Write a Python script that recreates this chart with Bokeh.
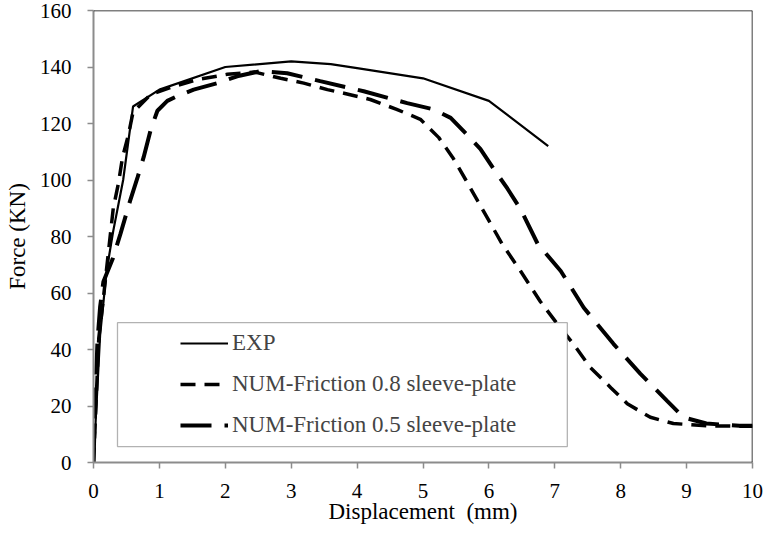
from bokeh.plotting import figure
from bokeh.models import Range1d, Legend, LegendItem, BoxAnnotation, Span, FixedTicker
from bokeh.embed import file_html
from bokeh.resources import INLINE

# ---- data ----
exp_x = [0, 0.1, 0.2, 0.3, 0.45, 0.6, 1.0, 2.0, 3.0, 3.6, 4.0, 5.0, 6.0, 6.9]
exp_y = [0, 45, 68, 82, 100, 126, 132, 140, 142, 141, 139.6, 136, 128, 112]

f08_x = [0, 0.08, 0.14, 0.21, 0.3, 0.38, 0.44, 0.53, 0.6, 0.87, 1.2, 1.58, 2.03,
         2.45, 2.84, 3.19, 3.55, 3.8, 4.2, 4.6, 4.96, 5.24, 5.45, 5.65, 5.83,
         6.02, 6.2, 6.48, 6.78, 7.04, 7.28, 7.54, 7.85, 8.1, 8.45, 8.8, 9.3, 10.0]
f08_y = [0, 44, 56, 71, 90, 99, 108, 116, 124, 130.3, 133, 135.6, 137.4,
         138.2, 136, 134.3, 132, 130.7, 128.5, 125, 121.5, 115, 108, 100, 92.6,
         84.8, 77.4, 67.8, 57, 49, 42, 33.6, 26.5, 20.8, 16, 13.8, 13, 12.8]

f05_x = [0, 0.02, 0.06, 0.1, 0.15, 0.29, 0.41, 0.56, 0.67, 0.76, 0.87, 0.97,
         1.12, 1.27, 1.52, 1.88, 2.18, 2.53, 2.94, 3.44, 3.9, 4.1, 4.76, 5.16,
         5.42, 5.69, 5.87, 6.1, 6.28, 6.48, 6.74, 7.09, 7.44, 7.89, 8.3, 8.7,
         8.95, 9.3, 9.8, 10.0]
f05_y = [0, 17, 43, 55, 64, 72, 81, 93, 101, 108, 118, 124.5,
         128, 129.7, 132, 134.3, 136.7, 138.5, 137.8, 135, 132.5, 131.4, 127.2, 125,
         122, 115.5, 111, 103, 97, 89.7, 77.4, 67.8, 54.8, 42, 31.4, 21.9,
         16, 13.8, 13, 13]

x_ticks = [0, 1, 2, 3, 4, 5, 6, 7, 8, 9, 10]
y_ticks = [0, 20, 40, 60, 80, 100, 120, 140, 160]

labels = ["EXP", "NUM-Friction 0.8 sleeve-plate", "NUM-Friction 0.5 sleeve-plate"]

FONT = "Liberation Serif"
AXIS_GRAY = "#8c8c8c"

p = figure(width=763, height=540, output_backend="svg", toolbar_location=None,
           x_range=Range1d(0, 10), y_range=Range1d(0, 160),
           min_border_left=93, min_border_right=11, min_border_top=10, min_border_bottom=78)
p.outline_line_color = None
p.grid.visible = False
p.background_fill_color = "white"

for ax in (p.xaxis[0], p.yaxis[0]):
    ax.axis_line_color = AXIS_GRAY
    ax.axis_line_width = 2
    ax.major_tick_line_color = AXIS_GRAY
    ax.major_tick_line_width = 1.5
    ax.major_tick_in = 0
    ax.major_tick_out = 6
    ax.minor_tick_line_color = None
    ax.major_label_text_font = FONT
    ax.major_label_text_font_size = "21px"
    ax.major_label_text_color = "black"
    ax.axis_label_text_font = FONT
    ax.axis_label_text_font_size = "23px"
    ax.axis_label_text_font_style = "normal"
    ax.axis_label_text_color = "black"

p.xaxis.ticker = FixedTicker(ticks=x_ticks)
p.yaxis.ticker = FixedTicker(ticks=y_ticks)
p.xaxis.axis_label = "Displacement\u00a0 (mm)"
p.yaxis.axis_label = "Force (KN)"
p.xaxis.major_label_standoff = 15
p.yaxis.major_label_standoff = 16
p.xaxis.axis_label_standoff = -2
p.yaxis.axis_label_standoff = 7

r_exp = p.line(exp_x, exp_y, line_color="black", line_width=2.2)
r_08 = p.line(f08_x, f08_y, line_color="black", line_width=3.5, line_dash="15 9")
r_05 = p.line(f05_x, f05_y, line_color="black", line_width=4, line_dash="31 13")

# top and right frame lines
p.add_layout(Span(location=160, dimension="width", line_color="black", line_width=1.5))
p.add_layout(Span(location=10, dimension="height", line_color="black", line_width=1.5))

# legend frame (white, opaque) then the legend entries on top
p.add_layout(BoxAnnotation(left=0.364, right=7.19, bottom=5.65, top=49.5,
                           fill_color="white", fill_alpha=1.0,
                           line_color="black", line_width=1.3))

legend = Legend(items=[LegendItem(label=labels[0], renderers=[r_exp]),
                       LegendItem(label=labels[1], renderers=[r_08]),
                       LegendItem(label=labels[2], renderers=[r_05])],
                location=(87, 16.5), padding=0, spacing=0, margin=0,
                label_height=41, glyph_height=20, glyph_width=48, label_standoff=4,
                label_text_font=FONT, label_text_font_size="23px",
                background_fill_alpha=0, border_line_alpha=0)
p.add_layout(legend, "center")

open("out.html", "w").write(file_html(p, INLINE))
